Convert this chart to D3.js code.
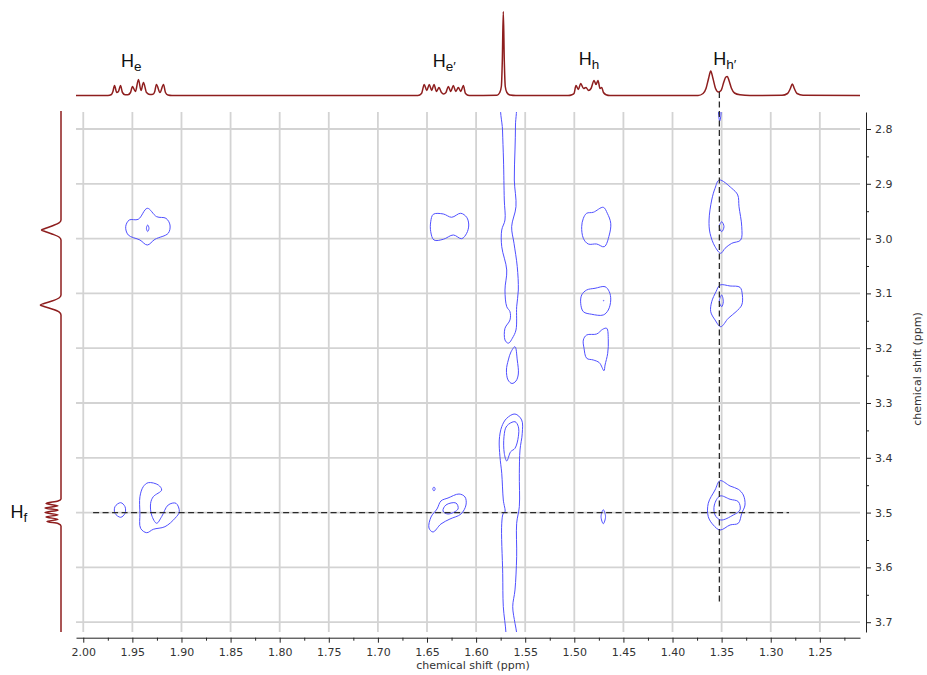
<!DOCTYPE html>
<html>
<head>
<meta charset="utf-8">
<script src="https://cdn.jsdelivr.net/npm/d3@7"></script>
<style>
  body { margin: 0; background: #fff; }
  svg { display: block; }
</style>
</head>
<body>
<svg id="chart" width="927" height="675"></svg>
<script>
// ---- Axis ticks (ppm) ----
const xTicks = [2.00, 1.95, 1.90, 1.85, 1.80, 1.75, 1.70, 1.65, 1.60, 1.55, 1.50, 1.45, 1.40, 1.35, 1.30, 1.25];
const xMinorTicks = [1.975, 1.925, 1.875, 1.825, 1.775, 1.725, 1.675, 1.625, 1.575, 1.525, 1.475, 1.425, 1.375, 1.325, 1.275, 1.225];
const yTicks = [2.8, 2.9, 3.0, 3.1, 3.2, 3.3, 3.4, 3.5, 3.6, 3.7];
const yMinorTicks = [2.85, 2.95, 3.05, 3.15, 3.25, 3.35, 3.45, 3.55, 3.65];

// ---- 1D projections: [ppm, intensity] ----
const topTrace = [
  [2.0074,0],[1.9749,0],[1.9713,1],[1.9698,4],[1.9682,10],[1.9659,3],[1.9642,4],[1.9621,10],[1.9601,3],
  [1.9575,0.8],[1.9545,0.8],[1.9519,3],[1.9499,9],[1.9469,4],[1.9438,16],[1.9412,5],[1.9387,13],[1.9356,3],
  [1.9321,1],[1.9290,1.2],[1.9272,4],[1.9255,11],[1.9219,3],[1.9183,11],[1.9163,3],[1.9138,0.5],[1.9097,0],
  [1.6592,0],[1.6556,2],[1.6528,11],[1.6502,5],[1.6477,11],[1.6452,5],[1.6429,11],[1.6403,4],[1.6378,8],
  [1.6352,3],[1.6332,1.5],[1.6307,3],[1.6283,9],[1.6258,4],[1.6232,10],[1.6207,4],[1.6181,8],[1.6156,4],
  [1.6130,10],[1.6108,2],[1.6072,0],
  [1.5787,0.3],[1.5759,3],[1.5743,9],[1.5733,35],[1.5723,84],[1.5713,35],[1.5703,9],[1.5687,3],[1.5655,0.5],[1.5594,0],
  [1.5064,0],[1.5024,0.8],[1.5003,2],[1.4983,10],[1.4959,6],[1.4935,12],[1.4906,7],[1.4881,8],[1.4855,5],
  [1.4830,7],[1.4799,15],[1.4779,11],[1.4759,15],[1.4738,7],[1.4721,8],[1.4703,3],[1.4677,0.8],[1.4637,0],
  [1.3740,0],[1.3689,2],[1.3659,7],[1.3633,17],[1.3611,24.5],[1.3588,17],[1.3562,7],[1.3532,3.5],[1.3506,5],
  [1.3476,14],[1.3457,18.5],[1.3442,19],[1.3425,15],[1.3399,7],[1.3369,2.5],[1.3313,0.7],[1.3211,0],
  [1.2885,0.2],[1.2829,2],[1.2800,7],[1.2780,11.5],[1.2760,7],[1.2732,2],[1.2671,0.3],[1.2091,0]
];

const leftTrace = [
  [2.7672,0],[2.9661,0],[2.9715,2],[2.9770,9],[2.9816,16],[2.9843,19.5],[2.9870,16],[2.9916,9],[2.9971,2],[3.0026,0],
  [3.1029,0],[3.1084,2],[3.1139,9],[3.1184,17],[3.1212,20.7],[3.1239,17],[3.1285,9],[3.1339,2],[3.1394,0],
  [3.4752,0],[3.4788,3],[3.4834,15],[3.4876,3],[3.4916,16],[3.4956,3],[3.4998,16],[3.5040,3],[3.5080,15],
  [3.5122,3],[3.5162,14],[3.5199,3],[3.5245,0],[3.7179,0]
];

// ---- 2D contour outlines: [ppm F2, ppm F1] ----
const heCross30 = [[1.9348,2.9447],[1.9440,2.9648],[1.9532,2.9661],[1.9568,2.9783],[1.9542,2.9934],[1.9423,3.0026],[1.9348,3.0117],[1.9270,3.0013],[1.9135,2.9903],[1.9117,2.9752],[1.9158,2.9630],[1.9253,2.9600]];
const heCross30Core = [[1.9344,2.9752],[1.9331,2.9812],[1.9344,2.9872],[1.9357,2.9812]];
const hePrimeCross30 = [[1.6436,2.9557],[1.6334,2.9551],[1.6249,2.9611],[1.6157,2.9538],[1.6096,2.9611],[1.6075,2.9752],[1.6096,2.9903],[1.6147,3.0002],[1.6232,2.9934],[1.6334,3.0013],[1.6429,3.0026],[1.6462,2.9874],[1.6462,2.9692]];
const ridgeUpper = [[1.5736,2.7562],[1.5731,2.8018],[1.5721,2.8566],[1.5713,2.9296],[1.5706,2.9661],[1.5739,2.9843],[1.5739,3.0148],[1.5688,3.0573],[1.5706,3.0938],[1.5688,3.1243],[1.5655,3.1334],[1.5655,3.1485],[1.5706,3.1637],[1.5706,3.1850],[1.5680,3.1905],[1.5665,3.1905],[1.5631,3.1819],[1.5594,3.1668],[1.5587,3.1243],[1.5570,3.0938],[1.5581,3.0513],[1.5614,3.0086],[1.5638,2.9783],[1.5594,2.9418],[1.5611,2.8931],[1.5604,2.8383],[1.5599,2.7927],[1.5604,2.7562]];
const ridgeBlob = [[1.5604,3.1973],[1.5581,3.2215],[1.5570,3.2471],[1.5594,3.2599],[1.5635,3.2644],[1.5675,3.2580],[1.5691,3.2398],[1.5672,3.2215],[1.5645,3.2069]];
const ridgeLower = [[1.5604,3.3201],[1.5536,3.3310],[1.5530,3.3553],[1.5553,3.3858],[1.5560,3.4283],[1.5560,3.4892],[1.5587,3.5195],[1.5587,3.5805],[1.5604,3.6412],[1.5627,3.6717],[1.5604,3.7020],[1.5587,3.7197],[1.5584,3.7507],[1.5696,3.7507],[1.5696,3.7197],[1.5723,3.6717],[1.5729,3.6108],[1.5739,3.5195],[1.5723,3.5013],[1.5706,3.4989],[1.5723,3.4770],[1.5739,3.4283],[1.5757,3.3980],[1.5764,3.3675],[1.5739,3.3433],[1.5688,3.3279]];
const ridgeLowerCore = [[1.5604,3.3341],[1.5570,3.3433],[1.5570,3.3615],[1.5604,3.3827],[1.5648,3.3889],[1.5688,3.4058],[1.5713,3.3918],[1.5716,3.3615],[1.5688,3.3420]];
const hhCross30 = [[1.4874,2.9538],[1.4807,2.9520],[1.4705,2.9429],[1.4664,2.9538],[1.4629,2.9721],[1.4644,2.9934],[1.4695,3.0148],[1.4772,3.0099],[1.4858,3.0099],[1.4908,2.9995],[1.4925,2.9783],[1.4908,2.9630]];
const hhCross31 = [[1.4874,3.0938],[1.4789,3.0907],[1.4687,3.0878],[1.4644,3.0969],[1.4629,3.1120],[1.4654,3.1303],[1.4705,3.1394],[1.4823,3.1381],[1.4908,3.1334],[1.4935,3.1181],[1.4925,3.1029]];
const hhCross31Dot = [[1.4701,3.1128],[1.4697,3.1133],[1.4701,3.1138],[1.4705,3.1133]];
const hhCross32 = [[1.4874,3.1759],[1.4772,3.1741],[1.4711,3.1655],[1.4670,3.1637],[1.4654,3.1850],[1.4660,3.2093],[1.4687,3.2307],[1.4698,3.2411],[1.4745,3.2265],[1.4807,3.2215],[1.4874,3.2184],[1.4901,3.2002],[1.4908,3.1850]];
const hhCross35 = [[1.4705,3.4947],[1.4682,3.5075],[1.4705,3.5203],[1.4728,3.5075]];
const hhPrimeTop = [[1.3519,2.7562],[1.3506,2.7708],[1.3519,2.7854],[1.3532,2.7708]];
const hhPrimeCross30 = [[1.3524,2.8931],[1.3397,2.9082],[1.3336,2.9204],[1.3323,2.9418],[1.3295,2.9783],[1.3306,3.0026],[1.3397,3.0086],[1.3465,3.0177],[1.3509,3.0268],[1.3567,3.0148],[1.3618,2.9903],[1.3628,2.9661],[1.3601,2.9296],[1.3567,2.9082]];
const hhPrimeCross30Core = [[1.3499,2.9692],[1.3476,2.9783],[1.3499,2.9874],[1.3524,2.9783]];
const hhPrimeCross31 = [[1.3516,3.0847],[1.3414,3.0865],[1.3313,3.0889],[1.3289,3.1029],[1.3295,3.1212],[1.3353,3.1334],[1.3432,3.1454],[1.3509,3.1608],[1.3567,3.1485],[1.3611,3.1334],[1.3601,3.1152],[1.3557,3.0969]];
const hhPrimeCross31Core = [[1.3499,3.1029],[1.3483,3.1152],[1.3499,3.1243],[1.3524,3.1152]];
const hhPrimeCross35 = [[1.3516,3.4418],[1.3414,3.4515],[1.3330,3.4575],[1.3279,3.4679],[1.3262,3.4861],[1.3295,3.5013],[1.3330,3.5195],[1.3414,3.5226],[1.3516,3.5318],[1.3585,3.5226],[1.3636,3.5075],[1.3636,3.4830],[1.3567,3.4588]];
const hhPrimeCross35Core = [[1.3516,3.4697],[1.3414,3.4757],[1.3330,3.4801],[1.3313,3.4953],[1.3381,3.5044],[1.3509,3.5135],[1.3567,3.5044],[1.3574,3.4861]];
const heCross35Small = [[1.9619,3.4819],[1.9575,3.4892],[1.9575,3.5013],[1.9619,3.5086],[1.9677,3.5013],[1.9677,3.4892]];
const heCross35 = [[1.9338,3.4454],[1.9236,3.4496],[1.9202,3.4588],[1.9287,3.4710],[1.9314,3.4830],[1.9304,3.5044],[1.9253,3.5195],[1.9202,3.5075],[1.9135,3.4861],[1.9056,3.4830],[1.9022,3.4984],[1.9066,3.5104],[1.9168,3.5257],[1.9287,3.5305],[1.9354,3.5367],[1.9416,3.5287],[1.9423,3.5013],[1.9423,3.4710],[1.9389,3.4527]];
const hePrimeCross35Dot = [[1.6429,3.4533],[1.6417,3.4569],[1.6429,3.4605],[1.6441,3.4569]];
const hePrimeCross35 = [[1.6286,3.4734],[1.6174,3.4661],[1.6113,3.4715],[1.6103,3.4861],[1.6154,3.5026],[1.6266,3.5117],[1.6358,3.5208],[1.6439,3.5354],[1.6480,3.5281],[1.6459,3.5080],[1.6398,3.4934],[1.6358,3.4788]];
const hePrimeCross35Core = [[1.6307,3.4861],[1.6205,3.4825],[1.6184,3.4934],[1.6286,3.5026],[1.6337,3.4971]];

const contours = [
  heCross30, heCross30Core, hePrimeCross30, ridgeUpper, ridgeBlob, ridgeLower, ridgeLowerCore,
  hhCross30, hhCross31, hhCross31Dot, hhCross32, hhCross35, hhPrimeTop, hhPrimeCross30, hhPrimeCross30Core,
  hhPrimeCross31, hhPrimeCross31Core, hhPrimeCross35, hhPrimeCross35Core, heCross35Small, heCross35,
  hePrimeCross35Dot, hePrimeCross35, hePrimeCross35Core
];

// ---- Peak assignments ----
const topLabels = [
  { ppm: 1.9616, main: "H", sub: "e" },
  { ppm: 1.6442, main: "H", sub: "e\u2032" },
  { ppm: 1.4955, main: "H", sub: "h" },
  { ppm: 1.3585, main: "H", sub: "h\u2032" }
];
const sideLabel = { ppm: 3.50, main: "H", sub: "f" };

// Cross-section guides through H_h' (F2) and H_f (F1)
const guideF2 = { ppm: 1.3523, from: 2.7325, to: 3.6668 };
const guideF1 = { ppm: 3.50, from: 1.990, to: 1.2814 };

// ---- Layout ----
const plot = { left: 76, right: 860, top: 112, bottom: 632 };
const svg = d3.select("#chart");
svg.append("rect").attr("width", 927).attr("height", 675).attr("fill", "#fff");

const x = d3.scaleLinear().domain([2.0074, 1.2091]).range([plot.left, plot.right]);
const y = d3.scaleLinear().domain([2.769, 3.7179]).range([plot.top, plot.bottom]);
const topI = d3.scaleLinear().domain([0, 84]).range([95.5, 11.5]);
const sideI = d3.scaleLinear().domain([0, 84]).range([61, -23]);

const tickFont = "'DejaVu Sans', Verdana, sans-serif";
const labelFont = "'Liberation Sans', Arial, sans-serif";

// grid
const grid = svg.append("g").attr("stroke", "#d3d3d3").attr("stroke-width", 1.8);
grid.selectAll("line.v").data(xTicks).join("line")
  .attr("x1", d => x(d)).attr("x2", d => x(d))
  .attr("y1", plot.top).attr("y2", plot.bottom);
grid.selectAll("line.h").data(yTicks).join("line")
  .attr("x1", plot.left).attr("x2", plot.right)
  .attr("y1", d => y(d)).attr("y2", d => y(d));

// contours
svg.append("clipPath").attr("id", "plotClip").append("rect")
  .attr("x", plot.left).attr("y", plot.top)
  .attr("width", plot.right - plot.left).attr("height", plot.bottom - plot.top);

const contourLine = d3.line()
  .x(d => x(d[0])).y(d => y(d[1]))
  .curve(d3.curveCatmullRomClosed.alpha(0.5));

svg.append("g").attr("clip-path", "url(#plotClip)")
  .selectAll("path").data(contours).join("path")
  .attr("d", contourLine)
  .attr("fill", "none").attr("stroke", "#5050ff").attr("stroke-width", 1);

// 1D projections
const spectrumColor = "#8e1e1e";
svg.append("path").datum(topTrace)
  .attr("d", d3.line().x(d => x(d[0])).y(d => topI(d[1])).curve(d3.curveMonotoneX))
  .attr("fill", "none").attr("stroke", spectrumColor).attr("stroke-width", 1.5);

svg.append("path").datum(leftTrace)
  .attr("d", d3.line().x(d => sideI(d[1])).y(d => y(d[0])).curve(d3.curveMonotoneY))
  .attr("fill", "none").attr("stroke", spectrumColor).attr("stroke-width", 1.5);

// guide lines
const guides = svg.append("g").attr("stroke", "#2a2a2a").attr("stroke-width", 1.3)
  .attr("stroke-dasharray", "6,3.5");
guides.append("line")
  .attr("x1", x(guideF1.from)).attr("x2", x(guideF1.to))
  .attr("y1", y(guideF1.ppm)).attr("y2", y(guideF1.ppm));
guides.append("line")
  .attr("x1", x(guideF2.ppm)).attr("x2", x(guideF2.ppm))
  .attr("y1", y(guideF2.from)).attr("y2", y(guideF2.to));

// bottom axis
const axisBottomY = 637.7;
svg.append("g").attr("transform", `translate(0,${axisBottomY})`)
  .call(d3.axisBottom(x).tickValues(xTicks).tickFormat(d3.format(".2f")).tickSize(5).tickSizeOuter(0).tickPadding(6));
svg.append("g").attr("transform", `translate(0,${axisBottomY})`)
  .call(d3.axisBottom(x).tickValues(xMinorTicks).tickFormat("").tickSize(3).tickSizeOuter(0))
  .call(g => g.select(".domain").remove());

// right axis
const axisRightX = 866;
svg.append("g").attr("transform", `translate(${axisRightX},0)`)
  .call(d3.axisRight(y).tickValues(yTicks).tickFormat(d3.format(".1f")).tickSize(5).tickSizeOuter(0).tickPadding(4));
svg.append("g").attr("transform", `translate(${axisRightX},0)`)
  .call(d3.axisRight(y).tickValues(yMinorTicks).tickFormat("").tickSize(3).tickSizeOuter(0))
  .call(g => g.select(".domain").remove());

svg.selectAll(".tick text").attr("font-family", tickFont).attr("font-size", 11).attr("fill", "#333");
svg.selectAll(".domain, .tick line").attr("stroke", "#222");

// axis titles
svg.append("text").attr("x", (plot.left + plot.right) / 2 + 5).attr("y", 669)
  .attr("text-anchor", "middle").attr("font-family", tickFont).attr("font-size", 11).attr("fill", "#333")
  .text("chemical shift (ppm)");
svg.append("text").attr("transform", `translate(921,${(plot.top + plot.bottom) / 2 - 3}) rotate(-90)`)
  .attr("text-anchor", "middle").attr("font-family", tickFont).attr("font-size", 11).attr("fill", "#333")
  .text("chemical shift (ppm)");

// assignment labels
function addLabel(px, py, lab) {
  const t = svg.append("text").attr("x", px).attr("y", py)
    .attr("font-family", labelFont).attr("font-size", 18).attr("fill", "#111");
  t.append("tspan").text(lab.main);
  t.append("tspan").attr("font-size", 13.5).attr("dy", 4).text(lab.sub);
}
topLabels.forEach((lab, i) => addLabel(x(lab.ppm), i < 2 ? 67 : 65, lab));
addLabel(10.5, y(sideLabel.ppm) + 5, sideLabel);
</script>
</body>
</html>
